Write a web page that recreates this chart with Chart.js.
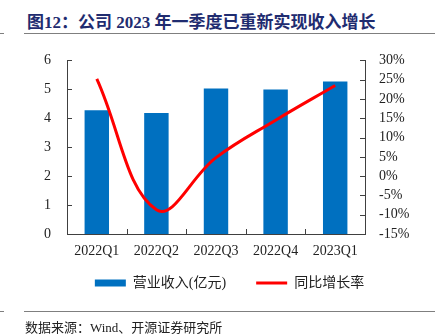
<!DOCTYPE html>
<html>
<head>
<meta charset="utf-8">
<script src="https://cdn.jsdelivr.net/npm/chart.js@4.4.1/dist/chart.umd.min.js"></script>
<style>
  html, body { margin: 0; padding: 0; background: #fff; width: 435px; height: 335px; overflow: hidden; }
  #title { position: absolute; left: 27px; top: 8px; font: bold 17px 'Liberation Serif', 'Noto Sans CJK SC', serif; color: #1F2C70; white-space: nowrap; }
  .rule { position: absolute; height: 0; border-top: 1.5px solid #7f7f7f; }
  #source { position: absolute; left: 25px; top: 317px; font: 13px 'Liberation Serif', 'Noto Sans CJK SC', serif; color: #222; white-space: nowrap; }
  #wrap { position: absolute; left: 0; top: 36px; width: 435px; height: 290px; }
</style>
</head>
<body>
<div id="wrap"><canvas id="c"></canvas></div>
<div id="title">图12：公司 2023 年一季度已重新实现收入增长</div>
<div class="rule" style="left:0;top:33px;width:4px"></div>
<div class="rule" style="left:24px;top:33px;width:411px"></div>
<div class="rule" style="left:0;top:311px;width:4px"></div>
<div class="rule" style="left:24px;top:311px;width:411px"></div>
<div id="source">数据来源：Wind、开源证券研究所</div>
<script>
const categories = ['2022Q1', '2022Q2', '2022Q3', '2022Q4', '2023Q1'];
const revenue = [4.28, 4.18, 5.03, 4.99, 5.27];
const growth = [25.2, -8.7, 4.8, 14.5, 23.5];
const leftTicks = [0, 1, 2, 3, 4, 5, 6];
const rightTicks = [-15, -10, -5, 0, 5, 10, 15, 20, 25, 30];

const axisColor = '#404040';
const serif = "'Liberation Serif', 'Times New Roman', serif";

const inwardTicks = {
  id: 'inwardTicks',
  afterLayout(chart) {
    const lg = chart.legend;
    if (lg) { lg.left += 12; lg.right += 12; lg.top -= 18; lg.bottom -= 18; }
  },
  afterDraw(chart) {
    const ctx = chart.ctx;
    const x = chart.scales.x, y = chart.scales.y, y1 = chart.scales.y1;
    ctx.save();
    ctx.strokeStyle = axisColor;
    ctx.lineWidth = 1;
    ctx.beginPath();
    y.ticks.forEach((t, i) => {
      const py = Math.round(y.getPixelForTick(i)) + 0.5;
      ctx.moveTo(x.left, py); ctx.lineTo(x.left + 5, py);
    });
    y1.ticks.forEach((t, i) => {
      const py = Math.round(y1.getPixelForTick(i)) + 0.5;
      ctx.moveTo(x.right, py); ctx.lineTo(x.right - 5, py);
    });
    const n = categories.length;
    for (let i = 1; i < n; i++) {
      const px = Math.round(x.left + (x.right - x.left) * i / n) + 0.5;
      ctx.moveTo(px, y.bottom); ctx.lineTo(px, y.bottom - 5);
    }
    ctx.stroke();
    ctx.restore();
  }
};

new Chart(document.getElementById('c'), {
  data: {
    labels: categories,
    datasets: [
      {
        type: 'line',
        label: '同比增长率',
        data: growth,
        yAxisID: 'y1',
        borderColor: '#FF0000',
        backgroundColor: '#FF0000',
        borderWidth: 3,
        pointRadius: 0,
        tension: 0.4,
        pointStyle: 'line',
        order: 0
      },
      {
        type: 'bar',
        label: '营业收入(亿元)',
        data: revenue,
        yAxisID: 'y',
        backgroundColor: '#0070C0',
        borderWidth: 0,
        barPercentage: 0.41,
        categoryPercentage: 1,
        pointStyle: 'rect',
        order: 1
      }
    ]
  },
  plugins: [inwardTicks],
  options: {
    responsive: true,
    maintainAspectRatio: false,
    animation: false,
    layout: { padding: { top: 0, bottom: 8, left: 0, right: 0 } },
    plugins: {
      tooltip: { enabled: false },
      legend: {
        position: 'bottom',
        reverse: true,
        labels: {
          usePointStyle: true,
          pointStyleWidth: 31,
          boxHeight: 7,
          padding: 30,
          color: '#222',
          font: { size: 14, family: "'Liberation Serif', 'Noto Sans CJK SC', serif" }
        }
      }
    },
    scales: {
      x: {
        offset: true,
        grid: { display: false, drawTicks: false },
        border: { display: true, color: axisColor, width: 1 },
        ticks: { color: '#222', padding: 9, font: { size: 14, family: serif } },
        afterFit(s) { s.height = 30; }
      },
      y: {
        position: 'left',
        min: 0, max: 6,
        afterBuildTicks(s) { s.ticks = leftTicks.map(v => ({ value: v })); },
        grid: { display: false, drawTicks: false },
        border: { display: true, color: axisColor, width: 1 },
        ticks: { color: '#222', padding: 16, autoSkip: false, font: { size: 14, family: serif } },
        afterFit(s) { s.width = 67; }
      },
      y1: {
        position: 'right',
        min: -15, max: 30,
        afterBuildTicks(s) { s.ticks = rightTicks.map(v => ({ value: v })); },
        grid: { display: false, drawTicks: false },
        border: { display: true, color: axisColor, width: 1 },
        ticks: { color: '#222', padding: 14, autoSkip: false, font: { size: 14, family: serif }, callback: v => v + '%' },
        afterFit(s) { s.width = 70; }
      }
    }
  }
});
</script>
</body>
</html>
